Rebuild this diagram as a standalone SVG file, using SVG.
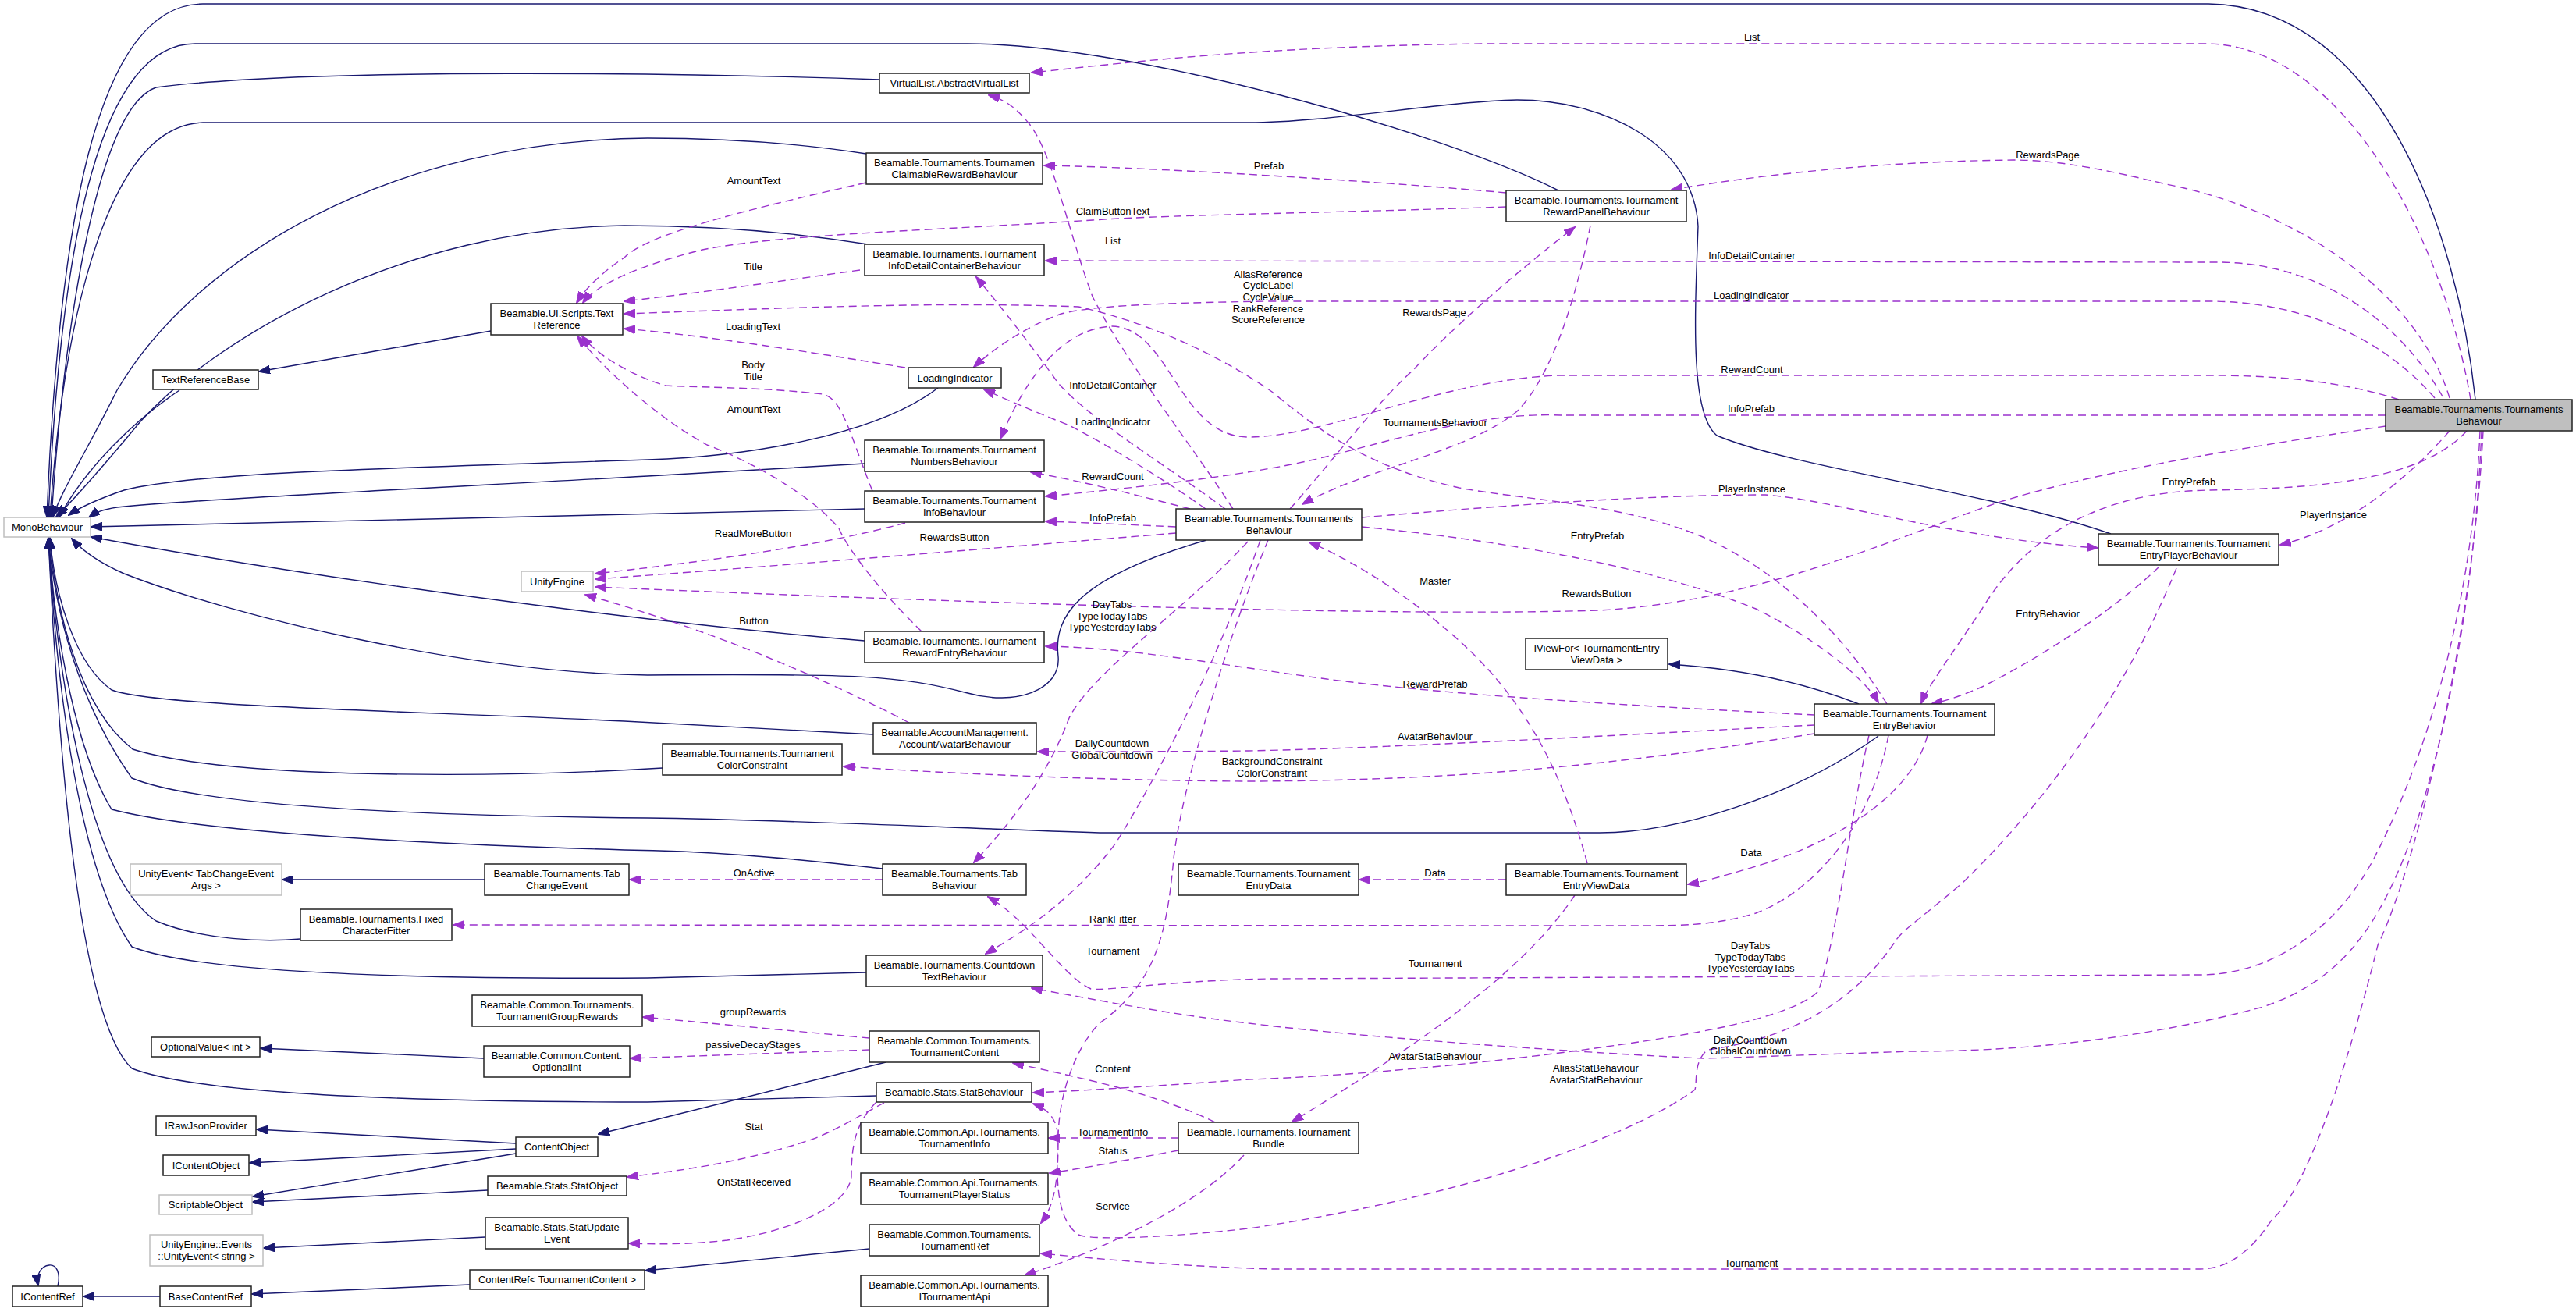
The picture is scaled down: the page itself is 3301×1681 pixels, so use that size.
<svg xmlns="http://www.w3.org/2000/svg" width="3301" height="1681" viewBox="0 0 3301 1681">
<defs>
<style>
.node rect{fill:#fff;stroke:#222;stroke-width:1.5}
.node.ext rect{stroke:#bfbfbf}
.node.main rect{fill:#bfbfbf}
text{font-family:"Liberation Sans",Arial,Helvetica,sans-serif;font-size:13px;text-anchor:middle;fill:#000}
.inh path{fill:none;stroke:#191970;stroke-width:1.4;marker-end:url(#ai)}
.use path{fill:none;stroke:#9a32cd;stroke-width:1.4;stroke-dasharray:10,6;marker-end:url(#au)}
</style>
<marker id="ai" markerWidth="15" markerHeight="11" refX="14" refY="5.5" orient="auto" markerUnits="userSpaceOnUse"><path d="M0,0 L15,5.5 L0,11 z" fill="#191970" stroke="#191970"/></marker>
<marker id="au" markerWidth="15" markerHeight="11" refX="14" refY="5.5" orient="auto" markerUnits="userSpaceOnUse"><path d="M0,0 L15,5.5 L0,11 z" fill="#9a32cd" stroke="#9a32cd"/></marker>
</defs>
<rect x="0" y="0" width="3301" height="1681" fill="#fff"/>
<g id="connectors">
<g class="inh">
<path d="M1127,102 C900,94 400,86 200,112 C120,140 80,450 66,662"/>
<path d="M3172,512 C3150,300 3050,8 2830,5 L260,5 C120,5 75,300 60,662"/>
<path d="M1997,244 C1850,170 1450,56 1240,56 L250,56 C130,56 78,300 62,662"/>
<path d="M2705,684 C2550,630 2300,600 2200,558 C2165,530 2172,400 2176,290 C2170,180 2050,128 1944,128 C1850,130 1700,157 1600,157 L260,157 C140,160 82,400 64,662"/>
<path d="M1110,197 C1000,180 900,177 830,177 C500,180 250,330 150,500 C110,580 78,630 68,662"/>
<path d="M1112,313 C1000,295 900,289 800,289 C520,292 280,430 180,540 C130,600 95,640 72,662"/>
<path d="M230,500 C170,540 110,600 76,662"/>
<path d="M629,424 L332,476"/>
<path d="M1202,497 C1120,560 950,585 830,589 C500,600 250,605 159,628 C130,638 105,648 88,660"/>
<path d="M1108,594 L830,610 C500,628 250,640 150,650 C130,653 122,657 114,663"/>
<path d="M1108,652 L117,675"/>
<path d="M1546,692 C1380,740 1350,790 1356,841 C1360,885 1300,905 1240,888 C1150,865 1100,863 830,865 C600,862 300,790 159,735 C125,720 105,705 92,690"/>
<path d="M1108,821 C800,795 400,740 117,688"/>
<path d="M1119,941 L800,924 C500,910 200,905 143,884 C95,850 70,760 64,689"/>
<path d="M849,984 C650,996 300,1000 170,960 C100,905 72,780 63,689"/>
<path d="M2407,943 C2300,1020 2150,1067 2050,1067 L1409,1067 C1200,1060 1000,1050 830,1048 C500,1045 250,1030 169,997 C100,900 70,780 62,689"/>
<path d="M1131,1113 C1000,1098 900,1090 800,1089 C500,1080 250,1065 143,1037 C90,950 68,780 62,689"/>
<path d="M1110,1246 L830,1253 C500,1255 250,1245 169,1213 C90,1100 68,800 62,689"/>
<path d="M385,1203 C340,1207 260,1205 200,1180 C110,1120 72,850 62,689"/>
<path d="M1123,1404 L830,1412 C500,1412 250,1400 169,1369 C95,1300 72,900 62,689"/>
<path d="M2382,902 C2300,870 2220,856 2139,851"/>
<path d="M621,1127 L362,1127"/>
<path d="M620,1356 L334,1343"/>
<path d="M661,1465 L329,1447"/>
<path d="M661,1472 L320,1490"/>
<path d="M661,1478 L324,1533"/>
<path d="M625,1525 L324,1540"/>
<path d="M622,1585 L338,1599"/>
<path d="M1135,1361 L767,1453"/>
<path d="M602,1646 L323,1658"/>
<path d="M205,1661 L107,1661"/>
<path d="M74,1648 C78,1630 72,1620 63,1621 C53,1622 46,1632 49,1647"/>
<path d="M1114,1600 L827,1628"/>
</g>
<g class="use">
<path d="M3166,512 C3130,300 3000,60 2830,56 L1900,56 C1600,60 1450,80 1322,93"/>
<path d="M3139,510 C3100,380 2950,270 2776,236 C2700,218 2640,205 2580,205 C2400,207 2250,225 2142,243"/>
<path d="M3130,508 C3080,420 2980,336 2841,336 L1340,334"/>
<path d="M3120,510 C3060,440 2960,386 2830,386 L1630,386 C1480,388 1400,392 1360,402 C1310,420 1270,450 1248,470"/>
<path d="M3074,512 C2990,485 2900,481 2830,481 L2000,481 C1850,485 1700,560 1600,560 C1510,560 1500,420 1425,418 C1370,420 1320,470 1282,562"/>
<path d="M3057,532 L2000,532 C1900,528 1800,560 1700,585 C1600,610 1450,625 1340,636"/>
<path d="M3139,552 C3080,620 3000,680 2922,698"/>
<path d="M3161,552 C3100,620 2950,626 2830,628 C2700,630 2600,680 2540,780 C2500,840 2470,880 2462,901"/>
<path d="M3057,546 C2900,570 2700,600 2560,644 C2400,700 2250,770 2050,782 C1800,790 1300,775 763,752"/>
<path d="M3178,552 C3170,750 3120,950 3042,1100 C3000,1180 2920,1249 2819,1249 L1630,1254 C1500,1256 1420,1270 1398,1267 C1360,1250 1320,1180 1266,1149"/>
<path d="M3180,552 C3170,800 3120,1000 3080,1100 C3040,1200 2990,1260 2900,1290 C2750,1330 2600,1347 2450,1347 C2300,1352 2200,1356 2182,1356 C2050,1350 1750,1330 1600,1311 C1500,1300 1400,1280 1322,1266"/>
<path d="M3182,552 C3170,800 3100,1100 3047,1211 C3000,1400 2950,1530 2911,1563 C2880,1610 2850,1626 2819,1626 L1630,1626 C1500,1622 1400,1612 1334,1606"/>
<path d="M1580,652 C1520,560 1440,460 1400,380 C1370,300 1350,200 1320,160 C1300,135 1285,127 1267,122"/>
<path d="M1653,652 C1700,600 1760,520 1812,473 C1880,400 1980,320 2018,291"/>
<path d="M1570,652 C1500,600 1400,540 1356,491 C1320,440 1280,390 1251,355"/>
<path d="M1545,652 C1500,620 1420,570 1370,545 C1320,525 1285,510 1261,499"/>
<path d="M1525,652 C1460,635 1380,615 1321,605"/>
<path d="M1507,675 C1440,672 1400,670 1340,668"/>
<path d="M1507,683 C1300,700 1000,725 763,742"/>
<path d="M1745,663 C1900,650 2100,634 2262,634 C2350,640 2500,690 2688,702"/>
<path d="M1745,675 C1900,690 2100,720 2250,780 C2330,820 2390,870 2407,900"/>
<path d="M1599,694 C1520,780 1400,860 1370,920 C1340,1000 1290,1060 1248,1105"/>
<path d="M1615,692 C1560,850 1480,1000 1430,1080 C1370,1160 1300,1200 1263,1222"/>
<path d="M1625,692 C1580,800 1515,1000 1504,1100 C1495,1200 1480,1260 1409,1311 C1380,1340 1356,1400 1356,1460 C1356,1520 1350,1545 1334,1567"/>
<path d="M2034,1106 C2000,980 1950,900 1891,841 C1830,780 1740,720 1678,695"/>
<path d="M2038,289 C2020,380 1990,480 1944,527 C1880,580 1750,600 1669,646"/>
<path d="M2418,902 C2380,840 2300,740 2182,688 C2080,645 1950,640 1870,625 C1760,600 1700,560 1630,502 C1570,460 1480,415 1382,393 C1200,386 1000,395 800,402"/>
<path d="M2325,916 C2100,905 1850,890 1700,870 C1550,850 1450,830 1340,828"/>
<path d="M2325,929 C2100,940 1800,958 1600,962 C1500,963 1400,963 1330,963"/>
<path d="M2325,940 C2100,975 1900,1000 1600,1001 C1400,1000 1200,990 1081,982"/>
<path d="M2470,942 C2450,1020 2350,1080 2250,1110 C2200,1125 2180,1130 2163,1133"/>
<path d="M2420,942 C2400,1050 2330,1140 2250,1170 C2200,1185 2160,1186 2100,1186 L581,1185"/>
<path d="M2395,942 C2370,1050 2355,1200 2330,1270 C2300,1300 2200,1320 2100,1335 C1900,1365 1700,1380 1600,1383 C1500,1390 1400,1397 1324,1400"/>
<path d="M2789,728 C2740,850 2650,1000 2515,1131 C2470,1170 2440,1190 2430,1204 C2380,1280 2300,1330 2188,1345 C2170,1360 2175,1385 2172,1396 C2100,1450 1900,1530 1600,1574 C1500,1585 1400,1590 1382,1582 C1350,1560 1355,1500 1355,1450 C1352,1430 1340,1420 1324,1414"/>
<path d="M2767,726 C2700,790 2600,850 2540,880 C2505,895 2485,900 2475,902"/>
<path d="M1557,1438 C1480,1400 1380,1380 1298,1362"/>
<path d="M1510,1458 L1344,1458"/>
<path d="M1510,1474 C1450,1485 1400,1495 1345,1503"/>
<path d="M1594,1480 C1540,1540 1420,1600 1313,1634"/>
<path d="M1930,1127 L1742,1127"/>
<path d="M2018,1147 C1950,1250 1800,1350 1656,1437"/>
<path d="M1131,1127 L807,1127"/>
<path d="M1114,1330 L824,1303"/>
<path d="M1114,1345 L808,1356"/>
<path d="M1133,1413 C1100,1430 1070,1449 1040,1460 C950,1490 870,1500 804,1508"/>
<path d="M1123,1412 C1095,1440 1091,1470 1091,1508 C1085,1550 1000,1580 932,1589 C880,1595 840,1594 806,1593"/>
<path d="M1110,234 C950,270 830,300 800,330 C770,350 750,370 739,388"/>
<path d="M1930,247 C1800,235 1500,215 1338,212"/>
<path d="M1930,265 C1700,273 1500,275 1400,282 C1200,295 1000,300 900,320 C800,345 760,370 747,388"/>
<path d="M1102,346 C1000,360 900,375 800,386"/>
<path d="M1160,471 C1000,445 900,430 800,421"/>
<path d="M1118,629 C1090,560 1080,510 1054,505 C980,496 880,496 853,494 C820,485 770,460 746,431"/>
<path d="M1181,809 C1110,740 1080,690 1075,677 C1040,634 960,590 906,570 C850,540 780,480 740,431"/>
<path d="M1160,670 C1050,700 900,720 763,735"/>
<path d="M1165,926 C1000,840 850,790 750,762"/>
</g>
<g id="edge-labels">
<text x="2245" y="52">List</text>
<text x="2624" y="203">RewardsPage</text>
<text x="2245" y="332">InfoDetailContainer</text>
<text x="2244" y="383">LoadingIndicator</text>
<text x="2245" y="478">RewardCount</text>
<text x="2244" y="528">InfoPrefab</text>
<text x="2990" y="664">PlayerInstance</text>
<text x="2805" y="622">EntryPrefab</text>
<text x="2046" y="765">RewardsButton</text>
<text x="2243" y="1216">DayTabs</text><text x="2243" y="1231">TypeTodayTabs</text><text x="2243" y="1245">TypeYesterdayTabs</text>
<text x="2243" y="1337">DailyCountdown</text><text x="2243" y="1351">GlobalCountdown</text>
<text x="2244" y="1623">Tournament</text>
<text x="1426" y="313">List</text>
<text x="1838" y="405">RewardsPage</text>
<text x="1426" y="498">InfoDetailContainer</text>
<text x="1426" y="545">LoadingIndicator</text>
<text x="1426" y="615">RewardCount</text>
<text x="1426" y="668">InfoPrefab</text>
<text x="1223" y="693">RewardsButton</text>
<text x="2245" y="631">PlayerInstance</text>
<text x="2047" y="691">EntryPrefab</text>
<text x="1425" y="779">DayTabs</text><text x="1425" y="794">TypeTodayTabs</text><text x="1425" y="808">TypeYesterdayTabs</text>
<text x="1425" y="957">DailyCountdown</text><text x="1425" y="972">GlobalCountdown</text>
<text x="1426" y="1223">Tournament</text>
<text x="1839" y="749">Master</text>
<text x="1839" y="546">TournamentsBehaviour</text>
<text x="1625" y="356">AliasReference</text><text x="1625" y="370">CycleLabel</text><text x="1625" y="385">CycleValue</text><text x="1625" y="400">RankReference</text><text x="1625" y="414">ScoreReference</text>
<text x="1839" y="881">RewardPrefab</text>
<text x="1839" y="948">AvatarBehaviour</text>
<text x="1630" y="980">BackgroundConstraint</text><text x="1630" y="995">ColorConstraint</text>
<text x="2244" y="1097">Data</text>
<text x="1426" y="1182">RankFitter</text>
<text x="1839" y="1358">AvatarStatBehaviour</text>
<text x="2045" y="1373">AliasStatBehaviour</text><text x="2045" y="1388">AvatarStatBehaviour</text>
<text x="2624" y="791">EntryBehavior</text>
<text x="1426" y="1374">Content</text>
<text x="1426" y="1455">TournamentInfo</text>
<text x="1426" y="1479">Status</text>
<text x="1426" y="1550">Service</text>
<text x="1839" y="1123">Data</text>
<text x="1839" y="1239">Tournament</text>
<text x="966" y="1123">OnActive</text>
<text x="965" y="1301">groupRewards</text>
<text x="965" y="1343">passiveDecayStages</text>
<text x="966" y="1448">Stat</text>
<text x="966" y="1519">OnStatReceived</text>
<text x="966" y="236">AmountText</text>
<text x="1626" y="217">Prefab</text>
<text x="1426" y="275">ClaimButtonText</text>
<text x="965" y="346">Title</text>
<text x="965" y="423">LoadingText</text>
<text x="965" y="472">Body</text><text x="965" y="487">Title</text>
<text x="966" y="529">AmountText</text>
<text x="965" y="688">ReadMoreButton</text>
<text x="966" y="800">Button</text>
</g>
</g>
<g id="n_main" class="node main"><rect x="3057" y="512" width="239" height="40"/><text x="3176.5" y="529">Beamable.Tournaments.Tournaments</text><text x="3176.5" y="544">Behaviour</text></g>
<g id="n_vlist" class="node"><rect x="1127" y="94" width="192" height="25"/><text x="1223" y="111">VirtualList.AbstractVirtualList</text></g>
<g id="n_claim" class="node"><rect x="1110" y="196" width="226" height="40"/><text x="1223" y="213">Beamable.Tournaments.Tournamen</text><text x="1223" y="228">ClaimableRewardBehaviour</text></g>
<g id="n_rpanel" class="node"><rect x="1930" y="244" width="231" height="40"/><text x="2045.5" y="261">Beamable.Tournaments.Tournament</text><text x="2045.5" y="276">RewardPanelBehaviour</text></g>
<g id="n_idc" class="node"><rect x="1108" y="313" width="230" height="40"/><text x="1223" y="330">Beamable.Tournaments.Tournament</text><text x="1223" y="345">InfoDetailContainerBehaviour</text></g>
<g id="n_textref" class="node"><rect x="629" y="389" width="169" height="40"/><text x="713.5" y="406">Beamable.UI.Scripts.Text</text><text x="713.5" y="421">Reference</text></g>
<g id="n_trb" class="node"><rect x="196" y="474" width="135" height="25"/><text x="263.5" y="491">TextReferenceBase</text></g>
<g id="n_loading" class="node"><rect x="1164" y="471" width="119" height="26"/><text x="1223.5" y="488.5">LoadingIndicator</text></g>
<g id="n_numbers" class="node"><rect x="1108" y="564" width="230" height="40"/><text x="1223" y="581">Beamable.Tournaments.Tournament</text><text x="1223" y="596">NumbersBehaviour</text></g>
<g id="n_mono" class="node ext"><rect x="5" y="663" width="111" height="25"/><text x="60.5" y="680">MonoBehaviour</text></g>
<g id="n_info" class="node"><rect x="1108" y="629" width="230" height="40"/><text x="1223" y="646">Beamable.Tournaments.Tournament</text><text x="1223" y="661">InfoBehaviour</text></g>
<g id="n_tb2" class="node"><rect x="1507" y="652" width="238" height="40"/><text x="1626" y="669">Beamable.Tournaments.Tournaments</text><text x="1626" y="684">Behaviour</text></g>
<g id="n_player" class="node"><rect x="2689" y="684" width="231" height="40"/><text x="2804.5" y="701">Beamable.Tournaments.Tournament</text><text x="2804.5" y="716">EntryPlayerBehaviour</text></g>
<g id="n_unity" class="node ext"><rect x="668" y="732" width="92" height="26"/><text x="714" y="749.5">UnityEngine</text></g>
<g id="n_rentry" class="node"><rect x="1108" y="809" width="230" height="40"/><text x="1223" y="826">Beamable.Tournaments.Tournament</text><text x="1223" y="841">RewardEntryBehaviour</text></g>
<g id="n_iview" class="node"><rect x="1955" y="818" width="182" height="40"/><text x="2046" y="835">IViewFor&lt; TournamentEntry</text><text x="2046" y="850">ViewData &gt;</text></g>
<g id="n_entry" class="node"><rect x="2325" y="902" width="231" height="40"/><text x="2440.5" y="919">Beamable.Tournaments.Tournament</text><text x="2440.5" y="934">EntryBehavior</text></g>
<g id="n_avatar" class="node"><rect x="1119" y="926" width="209" height="40"/><text x="1223.5" y="943">Beamable.AccountManagement.</text><text x="1223.5" y="958">AccountAvatarBehaviour</text></g>
<g id="n_color" class="node"><rect x="849" y="953" width="230" height="40"/><text x="964" y="970">Beamable.Tournaments.Tournament</text><text x="964" y="985">ColorConstraint</text></g>
<g id="n_uevt" class="node ext"><rect x="167" y="1107" width="194" height="40"/><text x="264" y="1124">UnityEvent&lt; TabChangeEvent</text><text x="264" y="1139">Args &gt;</text></g>
<g id="n_tabchg" class="node"><rect x="621" y="1107" width="185" height="40"/><text x="713.5" y="1124">Beamable.Tournaments.Tab</text><text x="713.5" y="1139">ChangeEvent</text></g>
<g id="n_tab" class="node"><rect x="1131" y="1107" width="184" height="40"/><text x="1223" y="1124">Beamable.Tournaments.Tab</text><text x="1223" y="1139">Behaviour</text></g>
<g id="n_edata" class="node"><rect x="1510" y="1107" width="231" height="40"/><text x="1625.5" y="1124">Beamable.Tournaments.Tournament</text><text x="1625.5" y="1139">EntryData</text></g>
<g id="n_evd" class="node"><rect x="1930" y="1107" width="231" height="40"/><text x="2045.5" y="1124">Beamable.Tournaments.Tournament</text><text x="2045.5" y="1139">EntryViewData</text></g>
<g id="n_fixed" class="node"><rect x="385" y="1165" width="194" height="40"/><text x="482" y="1182">Beamable.Tournaments.Fixed</text><text x="482" y="1197">CharacterFitter</text></g>
<g id="n_countdown" class="node"><rect x="1110" y="1224" width="226" height="40"/><text x="1223" y="1241">Beamable.Tournaments.Countdown</text><text x="1223" y="1256">TextBehaviour</text></g>
<g id="n_groupr" class="node"><rect x="605" y="1275" width="218" height="40"/><text x="714" y="1292">Beamable.Common.Tournaments.</text><text x="714" y="1307">TournamentGroupRewards</text></g>
<g id="n_tcontent" class="node"><rect x="1114" y="1321" width="218" height="40"/><text x="1223" y="1338">Beamable.Common.Tournaments.</text><text x="1223" y="1353">TournamentContent</text></g>
<g id="n_optval" class="node"><rect x="194" y="1329" width="139" height="25"/><text x="263.5" y="1346">OptionalValue&lt; int &gt;</text></g>
<g id="n_optint" class="node"><rect x="620" y="1340" width="187" height="40"/><text x="713.5" y="1357">Beamable.Common.Content.</text><text x="713.5" y="1372">OptionalInt</text></g>
<g id="n_statb" class="node"><rect x="1123" y="1387" width="199" height="25"/><text x="1222.5" y="1404">Beamable.Stats.StatBehaviour</text></g>
<g id="n_rawjson" class="node"><rect x="200" y="1430" width="128" height="25"/><text x="264" y="1447">IRawJsonProvider</text></g>
<g id="n_tinfo" class="node"><rect x="1103" y="1438" width="240" height="40"/><text x="1223" y="1455">Beamable.Common.Api.Tournaments.</text><text x="1223" y="1470">TournamentInfo</text></g>
<g id="n_bundle" class="node"><rect x="1510" y="1438" width="231" height="40"/><text x="1625.5" y="1455">Beamable.Tournaments.Tournament</text><text x="1625.5" y="1470">Bundle</text></g>
<g id="n_cobj" class="node"><rect x="661" y="1457" width="105" height="25"/><text x="713.5" y="1474">ContentObject</text></g>
<g id="n_icobj" class="node"><rect x="209" y="1480" width="110" height="26"/><text x="264" y="1497.5">IContentObject</text></g>
<g id="n_pstatus" class="node"><rect x="1103" y="1503" width="240" height="40"/><text x="1223" y="1520">Beamable.Common.Api.Tournaments.</text><text x="1223" y="1535">TournamentPlayerStatus</text></g>
<g id="n_statobj" class="node"><rect x="625" y="1507" width="178" height="25"/><text x="714" y="1524">Beamable.Stats.StatObject</text></g>
<g id="n_scriptable" class="node ext"><rect x="204" y="1531" width="119" height="25"/><text x="263.5" y="1548">ScriptableObject</text></g>
<g id="n_statupd" class="node"><rect x="622" y="1560" width="183" height="40"/><text x="713.5" y="1577">Beamable.Stats.StatUpdate</text><text x="713.5" y="1592">Event</text></g>
<g id="n_tref" class="node"><rect x="1114" y="1569" width="218" height="40"/><text x="1223" y="1586">Beamable.Common.Tournaments.</text><text x="1223" y="1601">TournamentRef</text></g>
<g id="n_uevtstr" class="node ext"><rect x="192" y="1582" width="145" height="40"/><text x="264.5" y="1599">UnityEngine::Events</text><text x="264.5" y="1614">::UnityEvent&lt; string &gt;</text></g>
<g id="n_cref" class="node"><rect x="602" y="1627" width="224" height="25"/><text x="714" y="1644">ContentRef&lt; TournamentContent &gt;</text></g>
<g id="n_itapi" class="node"><rect x="1103" y="1634" width="240" height="40"/><text x="1223" y="1651">Beamable.Common.Api.Tournaments.</text><text x="1223" y="1666">ITournamentApi</text></g>
<g id="n_icref" class="node"><rect x="16" y="1648" width="90" height="26"/><text x="61" y="1665.5">IContentRef</text></g>
<g id="n_basecref" class="node"><rect x="205" y="1648" width="117" height="26"/><text x="263.5" y="1665.5">BaseContentRef</text></g>
</svg>
